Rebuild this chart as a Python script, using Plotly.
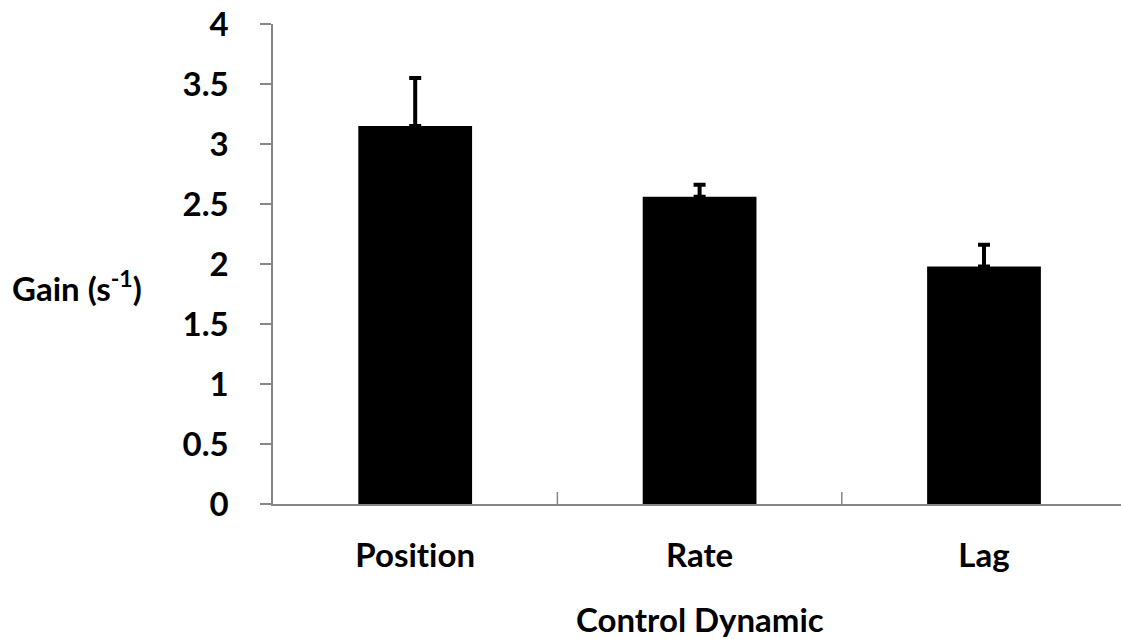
import plotly.graph_objects as go

# Gain by control dynamic, with one-sided (upper) error bars
categories = ["Position", "Rate", "Lag"]
gain = [3.15, 2.56, 1.98]
gain_err = [0.40, 0.10, 0.18]
y_ticks = [0, 0.5, 1, 1.5, 2, 2.5, 3, 3.5, 4]
y_tick_text = ["0", "0.5", "1", "1.5", "2", "2.5", "3", "3.5", "4"]

FONT = "Lato"
FONT_SIZE = 33
AXIS_GREY = "#868686"

W, H = 1121, 639
L, R, T, B = 273, 0, 24, 135
plot_w = W - L - R
plot_h = H - T - B
cat_px = 284.4  # pixel width of one category slot

fig = go.Figure()
fig.add_trace(go.Bar(
    x=list(range(len(categories))),
    y=gain,
    width=0.4,
    marker=dict(color="black", line=dict(width=0)),
    error_y=dict(
        type="data",
        array=gain_err,
        arrayminus=[0] * len(gain_err),
        symmetric=False,
        color="black",
        thickness=4,
        width=6,
    ),
))

fig.update_layout(
    width=W,
    height=H,
    margin=dict(l=L, r=R, t=T, b=B, pad=0),
    plot_bgcolor="white",
    paper_bgcolor="white",
    showlegend=False,
    font=dict(family=FONT, color="black"),
    xaxis=dict(
        range=[-0.5, -0.5 + plot_w / cat_px],
        tickmode="array",
        tickvals=list(range(len(categories))),
        ticktext=categories,
        ticks="",
        showgrid=False,
        zeroline=False,
        showline=True,
        linecolor=AXIS_GREY,
        linewidth=1.5,
        tickfont=dict(family=FONT, size=FONT_SIZE, color="black", weight="bold"),
        ticklabelstandoff=22,
    ),
    yaxis=dict(
        range=[0, 4],
        tickmode="array",
        tickvals=y_ticks,
        ticktext=y_tick_text,
        ticks="outside",
        ticklen=11,
        tickwidth=1.5,
        tickcolor=AXIS_GREY,
        showgrid=False,
        zeroline=False,
        showline=True,
        linecolor=AXIS_GREY,
        linewidth=1.5,
        tickfont=dict(family=FONT, size=FONT_SIZE, color="black", weight="bold"),
        ticklabelstandoff=25,
    ),
)

# Category-boundary ticks pointing up from the x axis
for b in [0.5, 1.5]:
    fig.add_shape(
        type="line", xref="x", yref="paper",
        x0=b, x1=b, y0=0, y1=12 / plot_h,
        line=dict(color=AXIS_GREY, width=1.5),
    )

# Axis titles
fig.add_annotation(
    text="<b>Gain (s<sup>-1</sup>)</b>",
    xref="paper", yref="paper",
    x=(10 - L) / plot_w, y=(H - B - 286) / plot_h,
    xanchor="left", yanchor="middle",
    showarrow=False,
    font=dict(family=FONT, size=FONT_SIZE, color="black"),
)
fig.add_annotation(
    text="<b>Control Dynamic</b>",
    xref="paper", yref="paper",
    x=0.5 * (W - L + 5) / plot_w, y=(H - B - 619) / plot_h,
    xanchor="center", yanchor="middle",
    showarrow=False,
    font=dict(family=FONT, size=FONT_SIZE, color="black"),
)

# Turn off typographic ligatures (e.g. "ti") in all SVG text
no_ligatures = (
    "document.querySelectorAll('.main-svg text').forEach(function(t){"
    "t.style.fontVariantLigatures='none';});"
)

fig.write_html("out.html", post_script=no_ligatures)
